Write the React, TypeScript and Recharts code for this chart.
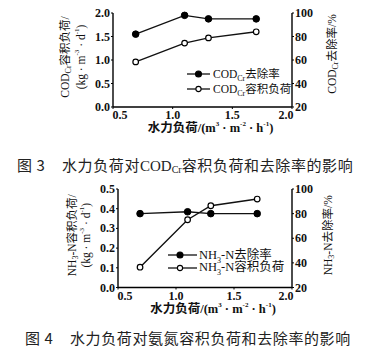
import React from 'react';
import { LineChart, Line, XAxis, YAxis, Legend } from 'recharts';

// ---- data ----
const hydraulicLoad = [0.69, 1.1, 1.3, 1.7];
const codRemovalRate = [82, 98, 95, 95];
const codVolumeLoad = [0.96, 1.36, 1.47, 1.6];
const nh3RemovalRate = [80, 81.5, 80, 80];
const nh3VolumeLoad = [0.103, 0.344, 0.415, 0.449];

const xTicks = [0.5, 1.0, 1.5, 2.0];
const codLoadTicks = [0, 0.5, 1.0, 1.5, 2.0];
const nh3LoadTicks = [0, 0.1, 0.2, 0.3, 0.4, 0.5];
const rateTicks = [20, 40, 60, 80, 100];

const codData = hydraulicLoad.map((x, i) => ({ x, rate: codRemovalRate[i], load: codVolumeLoad[i] }));
const nh3Data = hydraulicLoad.map((x, i) => ({ x, rate: nh3RemovalRate[i], load: nh3VolumeLoad[i] }));

const SERIF = '"Liberation Serif", "Times New Roman", "Noto Sans CJK SC", serif';
const CJK = '"Noto Sans CJK SC", "Liberation Serif", sans-serif';
const INK = '#111';

// ---- ticks ----
const XTick = (props: any) => {
  const { x, y, payload } = props;
  const v = Number(payload.value);
  const shift = v === 0.5 ? 7 : v === 2 ? -6 : 0;
  return (
    <text x={x + shift} y={y} dy={9} textAnchor="middle" fontSize={12} fontWeight={600} fontFamily={SERIF} fill={INK}>
      {v.toFixed(1)}
    </text>
  );
};
const LeftTick = (props: any) => {
  const { x, y, payload } = props;
  return (
    <text x={x} y={y} dy={4} textAnchor="end" fontSize={12} fontWeight={600} fontFamily={SERIF} fill={INK}>
      {Number(payload.value).toFixed(1)}
    </text>
  );
};
const RightTick = (props: any) => {
  const { x, y, payload } = props;
  return (
    <text x={x} y={y} dy={4} textAnchor="start" fontSize={12} fontWeight={600} fontFamily={SERIF} fill={INK}>
      {payload.value}
    </text>
  );
};

// ---- axis titles ----
const XTitle = (props: any) => {
  const vb = props.viewBox || { x: 0, y: 0, width: 0, height: 0 };
  const cx = vb.x + vb.width / 2 + 8;
  const cy = vb.y + 21;
  return (
    <text x={cx} y={cy} textAnchor="middle" dominantBaseline="central" fontSize={12.5} fontWeight="bold" fontFamily={SERIF} fill={INK}>
      水力负荷/(m<tspan dy={-4} fontSize={7}>3</tspan>
      <tspan dy={4}> · m</tspan>
      <tspan dy={-4} fontSize={7}>-2</tspan>
      <tspan dy={4}> · h</tspan>
      <tspan dy={-4} fontSize={7}>-1</tspan>
      <tspan dy={4}>)</tspan>
    </text>
  );
};

const Rotated = ({ x, y, size, children }: any) => (
  <text
    transform={`translate(${x},${y}) rotate(-90)`}
    textAnchor="middle"
    dominantBaseline="central"
    fontSize={size}
    fontFamily={SERIF}
    fill={INK}
  >
    {children}
  </text>
);

const UnitLine = ({ x, y, size }: any) => (
  <Rotated x={x} y={y} size={size}>
    (kg · m<tspan dy={-4} fontSize={7}>-3</tspan>
    <tspan dy={4}> · d</tspan>
    <tspan dy={-4} fontSize={7}>-1</tspan>
    <tspan dy={4}>)</tspan>
  </Rotated>
);

const CodLeftTitle = (props: any) => {
  const vb = props.viewBox || { x: 0, y: 0, width: 0, height: 0 };
  const cy = vb.y + vb.height / 2 - 3;
  return (
    <g>
      <Rotated x={vb.x + 12} y={cy} size={11.5}>
        COD<tspan dy={3} fontSize={8}>Cr</tspan>
        <tspan dy={-3}>容积负荷/</tspan>
      </Rotated>
      <UnitLine x={vb.x + 28} y={cy} size={11.5} />
    </g>
  );
};
const CodRightTitle = (props: any) => {
  const vb = props.viewBox || { x: 0, y: 0, width: 0, height: 0 };
  return (
    <Rotated x={vb.x + 40} y={vb.y + vb.height / 2 - 6} size={11.5}>
      COD<tspan dy={3} fontSize={8}>Cr</tspan>
      <tspan dy={-3}>去除率/%</tspan>
    </Rotated>
  );
};
const NhLeftTitle = (props: any) => {
  const vb = props.viewBox || { x: 0, y: 0, width: 0, height: 0 };
  const cy = vb.y + vb.height / 2 - 3;
  return (
    <g>
      <Rotated x={vb.x + 14} y={cy} size={11.5}>
        NH<tspan dy={3} fontSize={8}>3</tspan>
        <tspan dy={-3}>-N容积负荷/</tspan>
      </Rotated>
      <UnitLine x={vb.x + 28} y={cy} size={11.5} />
    </g>
  );
};
const NhRightTitle = (props: any) => {
  const vb = props.viewBox || { x: 0, y: 0, width: 0, height: 0 };
  return (
    <Rotated x={vb.x + 36} y={vb.y + vb.height / 2 - 3} size={11.5}>
      NH<tspan dy={3} fontSize={8}>3</tspan>
      <tspan dy={-3}>-N去除率/%</tspan>
    </Rotated>
  );
};

// ---- legends ----
const LegendBox = ({ items, rowH, lineW, markerX, fontSize, gap }: any) => (
  <div style={{ fontFamily: SERIF, fontSize, color: INK, lineHeight: `${rowH}px` }}>
    {items.map((it: any, i: number) => (
      <div key={i} style={{ display: 'flex', alignItems: 'center', height: rowH, whiteSpace: 'nowrap' }}>
        <svg width={lineW} height={10} style={{ flex: 'none', display: 'block' }}>
          <line x1={0} y1={5} x2={lineW} y2={5} stroke={INK} strokeWidth={1.3} />
          <circle cx={markerX} cy={5} r={it.filled ? 3 : 2.6} fill={it.filled ? '#000' : '#fff'} stroke="#000" strokeWidth={1.1} />
        </svg>
        <span style={{ marginLeft: gap }}>{it.label}</span>
      </div>
    ))}
  </div>
);

const codLegendItems = [
  { filled: true, label: <>COD<sub style={{ fontSize: 8, lineHeight: 0 }}>Cr</sub>去除率</> },
  { filled: false, label: <>COD<sub style={{ fontSize: 8, lineHeight: 0 }}>Cr</sub>容积负荷</> },
];
const nhLegendItems = [
  { filled: true, label: <>NH<sub style={{ fontSize: 8, lineHeight: 0 }}>3</sub>-N去除率</> },
  { filled: false, label: <>NH<sub style={{ fontSize: 8, lineHeight: 0 }}>3</sub>-N容积负荷</> },
];

const axisLine = { stroke: '#000', strokeWidth: 1.4 };
const tickLine = { stroke: '#000', strokeWidth: 1 };

const captionStyle: React.CSSProperties = {
  position: 'absolute',
  fontFamily: CJK,
  fontSize: 15,
  letterSpacing: 0.6,
  color: '#222',
  lineHeight: '20px',
  whiteSpace: 'pre',
};

export default function App() {
  return (
    <div style={{ position: 'absolute', left: 0, top: 0, width: 372, height: 360, background: '#fff', overflow: 'hidden' }}>
      {/* Figure 3 */}
      <div style={{ position: 'absolute', left: 0, top: 0 }}>
        <LineChart width={372} height={140} data={codData} margin={{ top: 13, right: 30, bottom: 3, left: 53 }}>
          <XAxis
            dataKey="x"
            type="number"
            domain={[0.5, 2]}
            ticks={xTicks}
            interval={0}
            tick={<XTick />}
            axisLine={axisLine}
            tickLine={tickLine}
            tickSize={2}
            tickMargin={1}
            height={30}
            label={{ content: XTitle }}
          />
          <YAxis
            yAxisId="left"
            orientation="left"
            domain={[0, 2]}
            ticks={codLoadTicks}
            interval={0}
            tick={<LeftTick />}
            axisLine={axisLine}
            tickLine={tickLine}
            tickSize={2}
            tickMargin={1}
            width={60}
            label={{ content: CodLeftTitle }}
          />
          <YAxis
            yAxisId="right"
            orientation="right"
            domain={[20, 100]}
            ticks={rateTicks}
            interval={0}
            tick={<RightTick />}
            axisLine={axisLine}
            tickLine={tickLine}
            tickSize={2}
            tickMargin={1}
            width={50}
            label={{ content: CodRightTitle }}
          />
          <Legend
            layout="vertical"
            align="center"
            verticalAlign="middle"
            wrapperStyle={{ left: 187, top: 66.5, width: 120, height: 30, margin: 0 }}
            content={() => <LegendBox items={codLegendItems} rowH={15} lineW={23} markerX={11.5} fontSize={11.5} gap={3} />}
          />
          <Line
            yAxisId="right"
            dataKey="rate"
            stroke={INK}
            strokeWidth={1.4}
            dot={{ r: 3.3, fill: '#000', stroke: '#000', strokeWidth: 1 }}
            isAnimationActive={false}
          />
          <Line
            yAxisId="left"
            dataKey="load"
            stroke={INK}
            strokeWidth={1.4}
            dot={{ r: 2.8, fill: '#fff', stroke: '#000', strokeWidth: 1.2 }}
            isAnimationActive={false}
          />
        </LineChart>
      </div>
      <div style={{ ...captionStyle, left: 17, top: 155 }}>图 3</div>
      <div style={{ ...captionStyle, left: 62, top: 155 }}>
        水力负荷对<span style={{ fontFamily: SERIF, letterSpacing: 0 }}>COD</span>
        <span style={{ fontFamily: SERIF, fontSize: 10, letterSpacing: 0, position: 'relative', top: 2 }}>Cr</span>
        容积负荷和去除率的影响
      </div>

      {/* Figure 4 */}
      <div style={{ position: 'absolute', left: 0, top: 175 }}>
        <LineChart width={372} height={145} data={nh3Data} margin={{ top: 14, right: 30, bottom: 2.5, left: 58 }}>
          <XAxis
            dataKey="x"
            type="number"
            domain={[0.5, 2]}
            ticks={xTicks}
            interval={0}
            tick={<XTick />}
            axisLine={axisLine}
            tickLine={tickLine}
            tickSize={2}
            tickMargin={1}
            height={30}
            label={{ content: XTitle }}
          />
          <YAxis
            yAxisId="left"
            orientation="left"
            domain={[0, 0.5]}
            ticks={nh3LoadTicks}
            interval={0}
            tick={<LeftTick />}
            axisLine={axisLine}
            tickLine={tickLine}
            tickSize={2}
            tickMargin={1}
            width={60}
            label={{ content: NhLeftTitle }}
          />
          <YAxis
            yAxisId="right"
            orientation="right"
            domain={[20, 100]}
            ticks={rateTicks}
            interval={0}
            tick={<RightTick />}
            axisLine={axisLine}
            tickLine={tickLine}
            tickSize={2}
            tickMargin={1}
            width={50}
            label={{ content: NhRightTitle }}
          />
          <Legend
            layout="vertical"
            align="center"
            verticalAlign="middle"
            wrapperStyle={{ left: 168, top: 73.6, width: 130, height: 26, margin: 0 }}
            content={() => <LegendBox items={nhLegendItems} rowH={12.7} lineW={29} markerX={12} fontSize={12.5} gap={2} />}
          />
          <Line
            yAxisId="right"
            dataKey="rate"
            stroke={INK}
            strokeWidth={1.4}
            dot={{ r: 3.3, fill: '#000', stroke: '#000', strokeWidth: 1 }}
            isAnimationActive={false}
          />
          <Line
            yAxisId="left"
            dataKey="load"
            stroke={INK}
            strokeWidth={1.4}
            dot={{ r: 2.8, fill: '#fff', stroke: '#000', strokeWidth: 1.2 }}
            isAnimationActive={false}
          />
        </LineChart>
      </div>
      <div style={{ ...captionStyle, left: 25, top: 328 }}>图 4</div>
      <div style={{ ...captionStyle, left: 70, top: 328 }}>水力负荷对氨氮容积负荷和去除率的影响</div>
    </div>
  );
}
